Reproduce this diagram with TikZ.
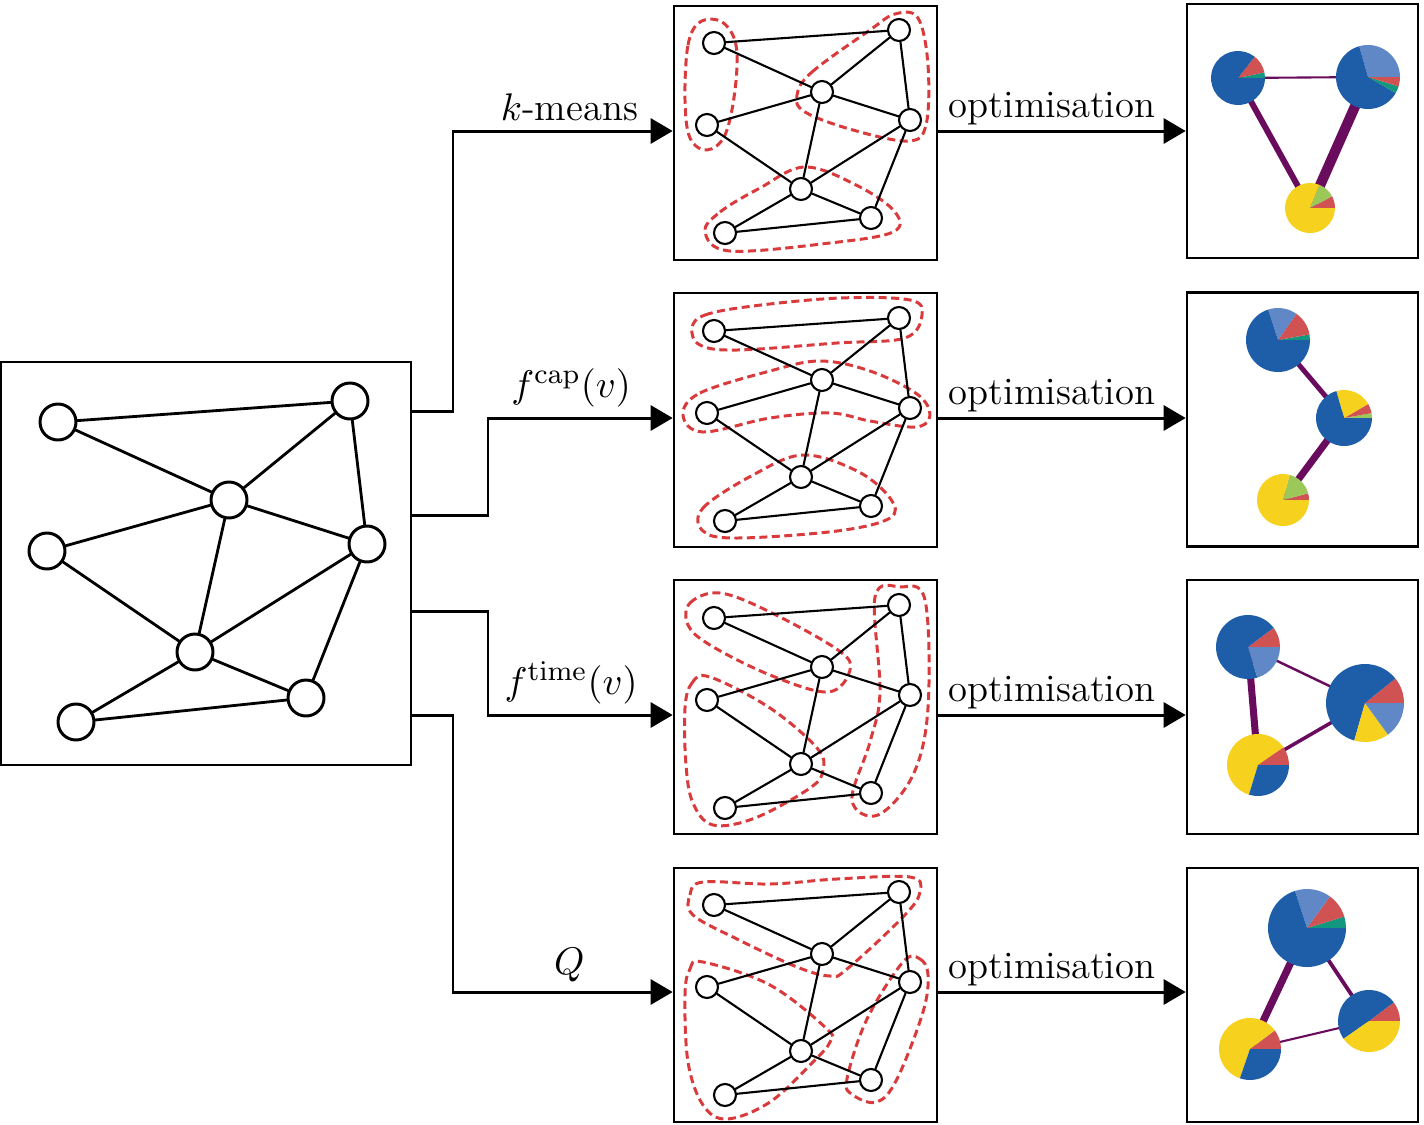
\documentclass[tikz,border=0pt]{standalone}
\usepackage{amsmath}
\usepackage{amssymb}
\usepackage{tikz}
\usetikzlibrary{arrows.meta}

\definecolor{pieblue}{HTML}{1E5DA8}
\definecolor{pielight}{HTML}{6088C6}
\definecolor{piered}{HTML}{D05252}
\definecolor{pieteal}{HTML}{13977E}
\definecolor{pieyellow}{HTML}{F6D11E}
\definecolor{piegreen}{HTML}{9CC85A}
\definecolor{dashred}{HTML}{D93A3C}
\definecolor{linkpurple}{HTML}{690C5E}

% small copy of the graph, #1 = name prefix, #2 = vertical offset
\newcommand{\smallgraph}[2]{%
  \begin{scope}[shift={(0,#2)}]
  \node[svertex] (#1a) at (714,43) {};
  \node[svertex] (#1b) at (899,30) {};
  \node[svertex] (#1c) at (822,92) {};
  \node[svertex] (#1d) at (707,125) {};
  \node[svertex] (#1e) at (910,120) {};
  \node[svertex] (#1f) at (801,189) {};
  \node[svertex] (#1g) at (871,218) {};
  \node[svertex] (#1h) at (725,233) {};
  \foreach \u/\v in {a/b,a/c,b/c,c/d,d/f,c/f,c/e,b/e,e/f,e/g,f/g,f/h,g/h}
    \draw[sedge] (#1\u) -- (#1\v);
  \end{scope}}

% dashed outline of one community
\newcommand{\grouping}[2]{%
  \draw[clusterline,shift={(0,#1)}] plot[smooth cycle,tension=0.6] coordinates {#2};}

% pie chart at a named coordinate
\newcommand{\piechart}[3]{%
  \begin{scope}[shift={(#1)},yscale=-1]
    \foreach \a/\b/\c in {#3}
      \fill[\c] (0,0) -- (\a:#2) arc (\a:\b:#2) -- cycle;
  \end{scope}}

\begin{document}
\begin{tikzpicture}[x=0.1mm,y=-0.1mm,line cap=round,line join=round,
  >={Triangle[length=2.2mm,width=2.5mm]},
  vertex/.style={circle,draw,fill=white,line width=0.85pt,minimum size=3.6mm,inner sep=0pt},
  svertex/.style={circle,draw,fill=white,line width=0.6pt,minimum size=2.2mm,inner sep=0pt},
  gedge/.style={line width=0.8pt},
  sedge/.style={line width=0.6pt},
  frame/.style={draw,line width=0.75pt,inner sep=0pt,line join=miter},
  flow/.style={->,line width=0.85pt,line cap=butt,line join=miter},
  lbl/.style={above,inner sep=0.9mm,font=\fontsize{11}{13}\selectfont},
  optlbl/.style={lbl,inner sep=0.5mm},
  clusterline/.style={draw=dashred,line width=0.85pt,line cap=butt,dash pattern=on 0.8mm off 0.45mm},
  link/.style={draw=linkpurple,line cap=butt}]
\useasboundingbox (0,0) rectangle (1424,1124);

% boxes
\node[frame,minimum width=41mm,minimum height=40.3mm] (big) at (206,563.5) {};
\node[frame,minimum width=26.3mm,minimum height=25.4mm] (kbox) at (805.5,133) {};
\node[frame,minimum width=26.3mm,minimum height=25.4mm] (cbox) at (805.5,420) {};
\node[frame,minimum width=26.3mm,minimum height=25.4mm] (tbox) at (805.5,707) {};
\node[frame,minimum width=26.3mm,minimum height=25.4mm] (qbox) at (805.5,995) {};
\node[frame,minimum width=23.1mm,minimum height=25.4mm] (kres) at (1302.5,131) {};
\node[frame,minimum width=23.1mm,minimum height=25.4mm] (cres) at (1302.5,419.5) {};
\node[frame,minimum width=23.1mm,minimum height=25.4mm] (tres) at (1302.5,707) {};
\node[frame,minimum width=23.1mm,minimum height=25.4mm] (qres) at (1302.5,995) {};

% input network
\node[vertex] (ga) at (58,422) {};
\node[vertex] (gb) at (350,401) {};
\node[vertex] (gc) at (229,500) {};
\node[vertex] (gd) at (47,551) {};
\node[vertex] (ge) at (367,544) {};
\node[vertex] (gf) at (195,652) {};
\node[vertex] (gg) at (306,698) {};
\node[vertex] (gh) at (76,722) {};
\foreach \u/\v in {a/b,a/c,b/c,c/d,d/f,c/f,c/e,b/e,e/f,e/g,f/g,f/h,g/h}
  \draw[gedge] (g\u) -- (g\v);

% communities
\grouping{0}{(685,100) (688,45) (700,22) (722,22) (736,45) (735,90) (725,135) (707,150) (690,138)}
\grouping{0}{(797,95) (812,72) (870,30) (895,14) (918,18) (928,65) (926,125) (908,141) (853,130) (805,112)}
\grouping{0}{(705,232) (720,212) (760,188) (805,167) (858,186) (895,212) (893,232) (830,243) (730,251)}
\grouping{288}{(692,40) (705,27) (753,18) (840,10) (910,12) (922,27) (905,50) (837,55) (737,62) (700,57)}
\grouping{288}{(683,127) (700,105) (770,83) (820,73) (870,83) (917,106) (930,127) (916,139) (870,133) (830,125) (770,130) (703,144)}
\grouping{288}{(703,243) (703,220) (753,187) (803,167) (857,183) (890,210) (890,230) (837,243) (737,250)}
\grouping{575}{(688,50) (690,28) (720,18) (770,37) (838,75) (850,95) (828,117) (770,100) (710,70)}
\grouping{575}{(685,133) (692,108) (710,102) (770,133) (817,173) (823,195) (810,213) (755,243) (713,250) (693,228) (686,190)}
\grouping{575}{(875,22) (900,12) (925,25) (928,133) (913,200) (878,240) (852,225) (870,167) (880,117)}
\grouping{862}{(693,53) (690,33) (703,20) (770,22) (837,17) (910,15) (920,30) (903,55) (847,107) (830,114) (797,105) (737,77)}
\grouping{862}{(685,133) (690,107) (703,100) (770,123) (827,167) (830,180) (813,200) (770,240) (727,257) (703,243) (688,200)}
\grouping{862}{(903,100) (920,97) (928,113) (923,150) (897,217) (877,240) (853,233) (847,217) (867,157)}

\smallgraph{k}{0}
\smallgraph{c}{288}
\smallgraph{t}{575}
\smallgraph{q}{862}

% coarse-grained networks
\coordinate (kp1) at (1238,78);  \coordinate (kp2) at (1368,77);  \coordinate (kp3) at (1310,208);
\coordinate (cp1) at (1278,340); \coordinate (cp2) at (1344,418); \coordinate (cp3) at (1283,500);
\coordinate (tp1) at (1248,647); \coordinate (tp2) at (1365,703); \coordinate (tp3) at (1258,765);
\coordinate (qp1) at (1307,928); \coordinate (qp2) at (1369,1021); \coordinate (qp3) at (1250,1049);

\draw[link,line width=0.6pt] (kp1) -- (kp2);
\draw[link,line width=1.7pt] (kp1) -- (kp3);
\draw[link,line width=2.9pt] (kp2) -- (kp3);
\draw[link,line width=1.4pt] (cp1) -- (cp2);
\draw[link,line width=2pt] (cp2) -- (cp3);
\draw[link,line width=0.7pt] (tp1) -- (tp2);
\draw[link,line width=2pt] (tp1) -- (tp3);
\draw[link,line width=1pt] (tp2) -- (tp3);
\draw[link,line width=1.1pt] (qp1) -- (qp2);
\draw[link,line width=2.1pt] (qp1) -- (qp3);
\draw[link,line width=0.6pt] (qp2) -- (qp3);

\piechart{kp1}{27}{0/12/pieteal,12/52/piered,52/360/pieblue}
\piechart{kp2}{32}{0/106/pielight,106/330/pieblue,330/343/pieteal,343/360/piered}
\piechart{kp3}{25}{0/28/piered,28/68/piegreen,68/360/pieyellow}
\piechart{cp1}{32}{0/10/pieteal,10/55/piered,55/108/pielight,108/360/pieblue}
\piechart{cp2}{28}{0/10/piegreen,10/30/piered,30/106/pieyellow,106/360/pieblue}
\piechart{cp3}{26}{0/15/piered,15/75/piegreen,75/360/pieyellow}
\piechart{tp1}{32}{0/37/piered,37/287/pieblue,287/360/pielight}
\piechart{tp2}{39}{0/39/piered,39/254/pieblue,254/306/pieyellow,306/360/pielight}
\piechart{tp3}{31}{0/35/piered,35/253/pieyellow,253/360/pieblue}
\piechart{qp1}{39}{0/17/pieteal,17/54/piered,54/108/pielight,108/360/pieblue}
\piechart{qp2}{31}{0/37/piered,37/215/pieblue,215/360/pieyellow}
\piechart{qp3}{31}{0/37/piered,37/251/pieyellow,251/360/pieblue}

% arrows
\draw[flow] (big.east |- 0,411) -| (453,131) -- node[lbl,pos=0.53] {$k$-means} (kbox.west |- 0,131);
\draw[flow] (big.east |- 0,515) -| (488,418) -- node[lbl,pos=0.45] {$f^{\mathrm{cap}}(v)$} (cbox.west |- 0,418);
\draw[flow] (big.east |- 0,611) -| (488,715) -- node[lbl,pos=0.45] {$f^{\mathrm{time}}(v)$} (tbox.west |- 0,715);
\draw[flow] (big.east |- 0,715) -| (453,992) -- node[lbl,pos=0.53] {$Q$} (qbox.west |- 0,992);
\foreach \rw/\y in {k/131,c/418,t/715,q/992}
  \draw[flow] (\rw box.east |- 0,\y) -- node[optlbl,pos=0.46] {optimisation} (\rw res.west |- 0,\y);
\end{tikzpicture}
\end{document}
